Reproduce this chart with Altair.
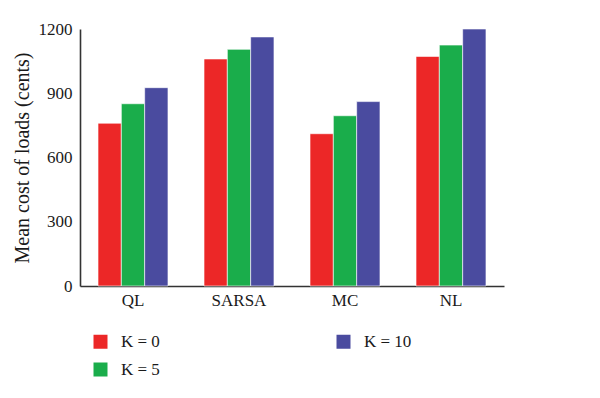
import altair as alt
import pandas as pd

methods = ["QL", "SARSA", "MC", "NL"]
k0 = [760, 1060, 711, 1072]
k5 = [851, 1105, 795, 1125]
k10 = [926, 1163, 861, 1200]
series = ["K = 0", "K = 5", "K = 10"]
colors = ["#ec2727", "#1aad4b", "#4a4b9f"]
y_ticks = [0, 300, 600, 900, 1200]

rows = []
for i, m in enumerate(methods):
    for s, vals in zip(series, [k0, k5, k10]):
        rows.append({"method": m, "series": s, "value": vals[i]})
df = pd.DataFrame(rows)

font = "Liberation Serif"

chart = alt.Chart(df).mark_bar(stroke="white", strokeWidth=0.6).encode(
    x=alt.X("method:N", sort=methods, title=None,
            scale=alt.Scale(paddingInner=0.34, paddingOuter=0.17),
            axis=alt.Axis(labelAngle=0, ticks=False, labelFontSize=17, labelPadding=6,
                          domainColor="#333333", domainWidth=1.6, labelColor="#1a1a1a",
                          labelFont=font)),
    xOffset=alt.XOffset("series:N", sort=series),
    y=alt.Y("value:Q", title="Mean cost of loads (cents)",
            scale=alt.Scale(domain=[0, 1200], nice=False),
            axis=alt.Axis(values=y_ticks, format="d", ticks=False, grid=False, labelFontSize=17,
                          labelPadding=8, titleFontSize=20, titleFontWeight="normal",
                          titlePadding=6, domainColor="#333333", domainWidth=1.6,
                          labelColor="#1a1a1a", titleColor="#1a1a1a",
                          labelFont=font, titleFont=font)),
    color=alt.Color("series:N",
                    scale=alt.Scale(domain=["K = 0", "K = 10", "K = 5"],
                                    range=[colors[0], colors[2], colors[1]]),
                    legend=alt.Legend(title=None, orient="none", legendX=12, legendY=304,
                                      columns=2, columnPadding=175, rowPadding=10,
                                      symbolType="square", symbolSize=196,
                                      symbolStrokeWidth=0, labelFontSize=17,
                                      labelFont=font, labelColor="#1a1a1a",
                                      labelOffset=12, direction="horizontal")),
).properties(
    width=424, height=257,
    background="white",
    autosize=alt.AutoSizeParams(type="none"),
    padding={"left": 72, "top": 21, "right": 80, "bottom": 100},
).configure_view(strokeWidth=0)

chart.save("out.html", embed_options={"renderer": "svg", "actions": False})
